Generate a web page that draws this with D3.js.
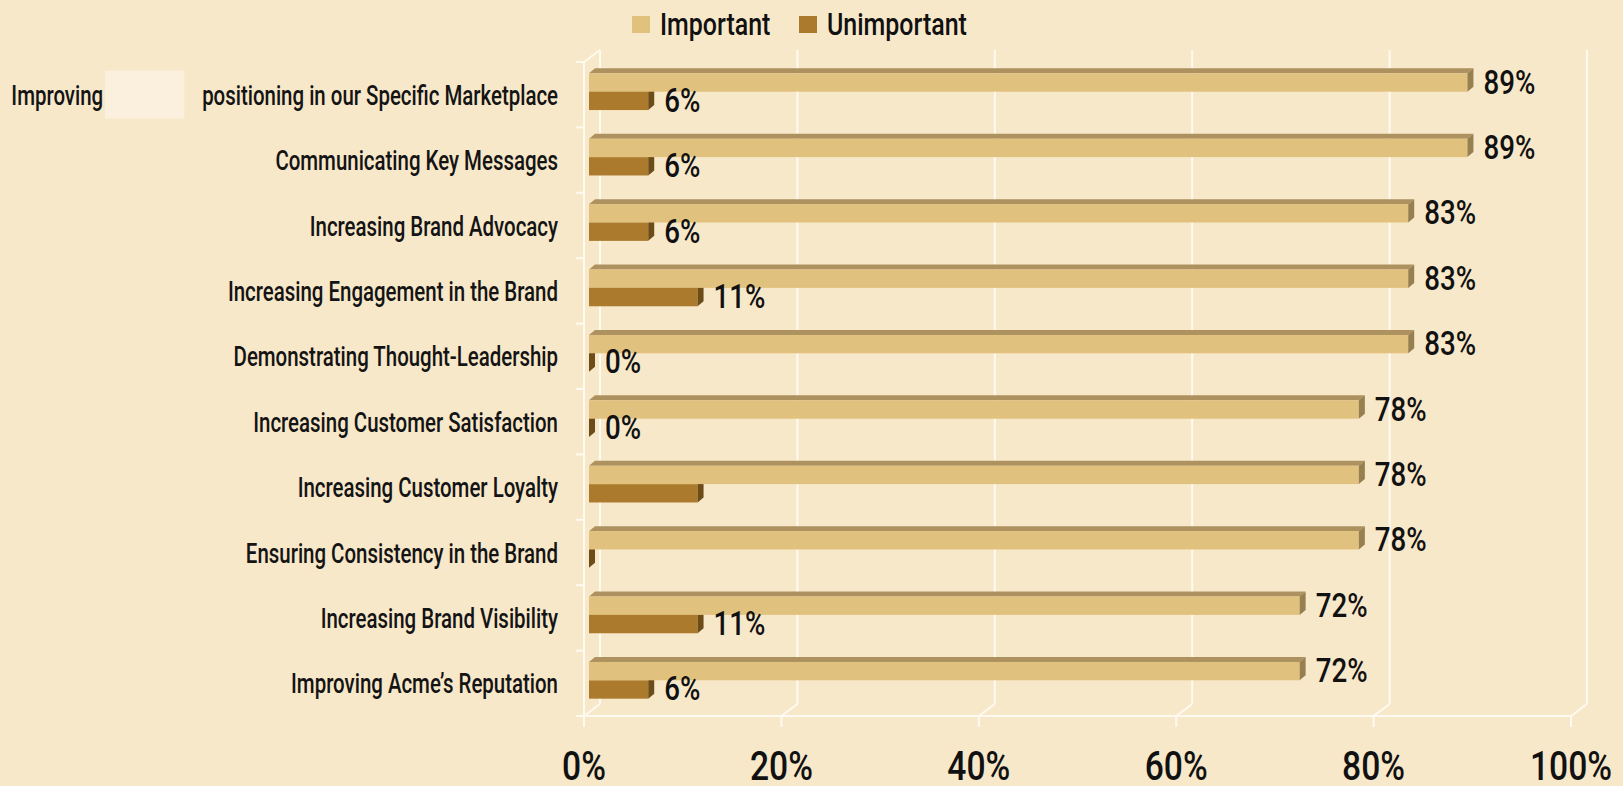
<!DOCTYPE html>
<html>
<head>
<meta charset="utf-8">
<script src="https://cdn.jsdelivr.net/npm/d3@7"></script>
<style>
  html, body { margin: 0; padding: 0; background: #f8e8ca; }
  svg { display: block; font-family: Roboto, "Liberation Sans", sans-serif; }
  .cat-label { font-size: 28px; font-weight: 500; fill: #141414; }
  .value-label { font-size: 33px; font-weight: 500; fill: #111; }
  .axis-label { font-size: 41px; font-weight: 500; fill: #111; }
  .legend-label { font-size: 32px; font-weight: 500; fill: #111; }
</style>
</head>
<body>
<div id="chart"></div>
<script>
const categories = [
  "Improving positioning in our Specific Marketplace",
  "Communicating Key Messages",
  "Increasing Brand Advocacy",
  "Increasing Engagement in the Brand",
  "Demonstrating Thought-Leadership",
  "Increasing Customer Satisfaction",
  "Increasing Customer Loyalty",
  "Ensuring Consistency in the Brand",
  "Increasing Brand Visibility",
  "Improving Acme\u2019s Reputation"
];
const seriesNames = ["Important", "Unimportant"];
const important = [89, 89, 83, 83, 83, 78, 78, 78, 72, 72];
const unimportant = [6, 6, 6, 11, 0, 0, 11, 0, 11, 6];
// the reference leaves a couple of the unimportant bars without a label
const unimportantLabelShown = [true, true, true, true, true, true, false, false, true, true];
const xTicks = [0, 20, 40, 60, 80, 100];

const width = 1623, height = 786;
const plot = { left: 584, right: 1571, top: 62, bottom: 716 };
const depth = { dx: 16, dy: -12 };      // floor / back wall offset
const barFront = { dx: 5, dy: -3 };     // bars sit a bit behind the front plane
const barDepth = { dx: 6, dy: -5 };     // thickness of each bar
const squeeze = { cat: 0.73, value: 0.84, axis: 0.82, legend: 0.78 }; // fake a condensed face

const colors = {
  Important: { front: "#e1c17e", top: "#ad915f", side: "#978050" },
  Unimportant: { front: "#ab7a2d", top: "#8a6222", side: "#6c4d19" }
};
const gridColor = "#fffaf0";

const svg = d3.select("#chart").append("svg")
  .attr("width", width)
  .attr("height", height);

const x = d3.scaleLinear().domain([0, 100]).range([plot.left, plot.right]);
const y = d3.scaleBand().domain(categories).range([plot.top, plot.bottom]);
const ySeries = d3.scaleBand().domain(seriesNames).range([0, y.bandwidth()]).paddingOuter(0.78);

function place(sel, px, py, sx) {
  return sel.attr("transform", `translate(${px},${py}) scale(${sx},1)`);
}

// ---- walls, floor and grid
const grid = svg.append("g").attr("class", "grid")
  .attr("stroke", gridColor)
  .attr("stroke-width", 2)
  .attr("fill", "none");

// back wall vertical lines
grid.selectAll(".back-line").data(xTicks).join("line")
  .attr("class", "back-line")
  .attr("x1", d => x(d) + depth.dx).attr("x2", d => x(d) + depth.dx)
  .attr("y1", plot.top + depth.dy).attr("y2", plot.bottom + depth.dy);

// floor diagonals
grid.selectAll(".floor-line").data(xTicks).join("line")
  .attr("class", "floor-line")
  .attr("x1", d => x(d)).attr("x2", d => x(d) + depth.dx)
  .attr("y1", plot.bottom).attr("y2", plot.bottom + depth.dy);

// floor front edge and x ticks
grid.append("line")
  .attr("x1", plot.left).attr("x2", plot.right)
  .attr("y1", plot.bottom).attr("y2", plot.bottom);
grid.selectAll(".x-tick").data(xTicks).join("line")
  .attr("class", "x-tick")
  .attr("x1", d => x(d)).attr("x2", d => x(d))
  .attr("y1", plot.bottom).attr("y2", plot.bottom + 11);

// left wall
grid.append("line")
  .attr("x1", plot.left).attr("x2", plot.left)
  .attr("y1", plot.top).attr("y2", plot.bottom);
grid.append("line")
  .attr("x1", plot.left).attr("x2", plot.left + depth.dx)
  .attr("y1", plot.top).attr("y2", plot.top + depth.dy);
const yTickPos = categories.map(c => y(c)).concat([plot.bottom]);
grid.selectAll(".y-tick").data(yTickPos).join("line")
  .attr("class", "y-tick")
  .attr("x1", plot.left - 8).attr("x2", plot.left)
  .attr("y1", d => d).attr("y2", d => d);

// ---- bars
const rows = categories.map((c, i) => ({
  category: c,
  values: [
    { series: "Unimportant", value: unimportant[i], showLabel: unimportantLabelShown[i] },
    { series: "Important", value: important[i], showLabel: true }
  ]
}));

const pts = p => p.map(d => d.join(",")).join(" ");

const barG = svg.append("g").attr("class", "bars");
const valueG = svg.append("g").attr("class", "value-labels"); // on top of every bar
rows.forEach(row => {
  row.values.forEach(d => {
    const x0 = x(0) + barFront.dx;
    const x1 = x(d.value) + barFront.dx;
    const y0 = y(row.category) + ySeries(d.series) + barFront.dy;
    const h = ySeries.bandwidth();
    const c = colors[d.series];
    const g = barG.append("g");
    // top face
    g.append("polygon")
      .attr("points", pts([[x0, y0], [x0 + barDepth.dx, y0 + barDepth.dy], [x1 + barDepth.dx, y0 + barDepth.dy], [x1, y0]]))
      .attr("fill", c.top);
    // front face
    g.append("rect")
      .attr("x", x0).attr("y", y0)
      .attr("width", Math.max(0, x1 - x0)).attr("height", h)
      .attr("fill", c.front);
    // side face
    g.append("polygon")
      .attr("points", pts([[x1, y0], [x1 + barDepth.dx, y0 + barDepth.dy], [x1 + barDepth.dx, y0 + h + barDepth.dy], [x1, y0 + h]]))
      .attr("fill", c.side);
    if (d.showLabel) {
      valueG.append("text")
        .attr("class", "value-label")
        .call(place, x1 + barDepth.dx + 10, y0 + h / 2 + 11, squeeze.value)
        .text(`${d.value}%`);
    }
  });
});

// ---- category labels
const labelG = svg.append("g").attr("class", "cat-labels");
categories.forEach((c, i) => {
  const yc = y(c) + y.bandwidth() / 2 + 10;
  if (i === 0) {
    // first label has a word masked out in the original
    const rest = labelG.append("text")
      .attr("class", "cat-label")
      .attr("text-anchor", "end")
      .call(place, 558, yc, squeeze.cat)
      .text("positioning in our Specific Marketplace");
    const start = 558 - rest.node().getComputedTextLength() * squeeze.cat;
    labelG.append("rect")
      .attr("x", start - 97).attr("y", yc - 34)
      .attr("width", 79).attr("height", 48)
      .attr("fill", "#fbf0de");
    labelG.append("text")
      .attr("class", "cat-label")
      .attr("text-anchor", "end")
      .call(place, start - 99, yc, squeeze.cat)
      .text("Improving");
  } else {
    labelG.append("text")
      .attr("class", "cat-label")
      .attr("text-anchor", "end")
      .call(place, 558, yc, squeeze.cat)
      .text(c);
  }
});

// ---- x axis labels
svg.append("g").attr("class", "x-labels")
  .selectAll("text").data(xTicks).join("text")
  .attr("class", "axis-label")
  .attr("text-anchor", "middle")
  .each(function (d) { place(d3.select(this), x(d), 780, squeeze.axis); })
  .text(d => `${d}%`);

// ---- legend
const legendX = [632, 799];
const legend = svg.append("g").attr("class", "legend")
  .selectAll("g").data(seriesNames).join("g")
  .attr("transform", (d, i) => `translate(${legendX[i]},16)`);
legend.append("rect")
  .attr("width", 18).attr("height", 17)
  .attr("fill", d => colors[d].front);
legend.append("text")
  .attr("class", "legend-label")
  .call(place, 28, 19, squeeze.legend)
  .text(d => d);
</script>
</body>
</html>
